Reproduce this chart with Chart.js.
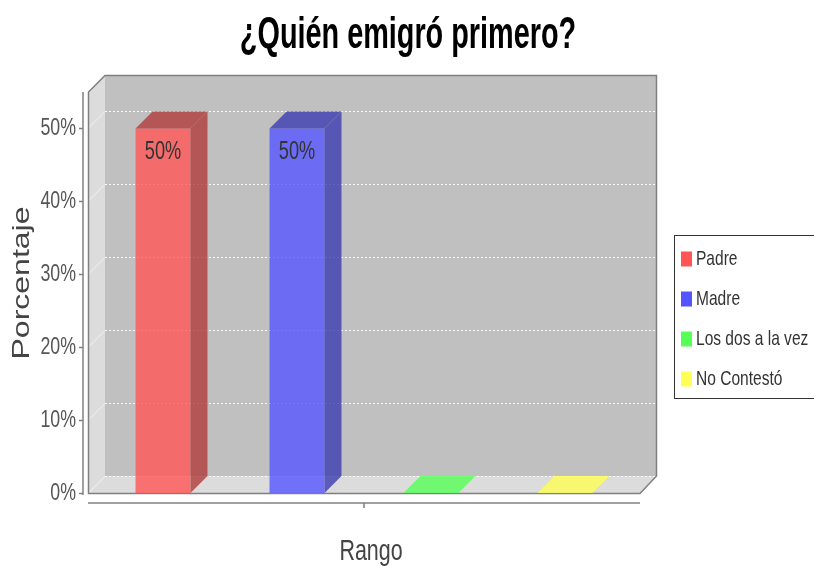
<!DOCTYPE html>
<html>
<head>
<meta charset="utf-8">
<script src="https://cdn.jsdelivr.net/npm/chart.js@4"></script>
<style>
  html, body { margin: 0; padding: 0; background: #fff; }
  #wrap { width: 814px; height: 567px; }
</style>
</head>
<body>
<div id="wrap"><canvas id="chart" width="814" height="567"></canvas></div>
<script>
// datos
const categories = ["Rango"];
const seriesNames = ["Padre", "Madre", "Los dos a la vez", "No Contestó"];
const seriesValues = [50, 50, 0, 0];
const yTicks = [0, 10, 20, 30, 40, 50];
const yMax = 55;

const chartTitle = "¿Quién emigró primero?";
const yTitle = "Porcentaje";
const xTitle = "Rango";

const baseColors = [[255, 85, 85], [85, 85, 255], [85, 255, 85], [255, 255, 85]];
const DEPTH = 17;
const FONT = "'Liberation Sans', Arial, sans-serif";

function rgba(c, a) { return `rgba(${c[0]},${c[1]},${c[2]},${a})`; }
function darker(c) { return c.map(v => Math.floor(v * 0.7)); }

// texto con escala horizontal (la imagen original está comprimida)
function txt(ctx, s, x, y, opt) {
  ctx.save();
  ctx.translate(x, y);
  ctx.scale(opt.sx || 0.74, 1);
  if (opt.rotate) ctx.rotate(opt.rotate);
  ctx.font = opt.font;
  ctx.fillStyle = opt.color || "#444";
  ctx.textAlign = opt.align || "center";
  ctx.textBaseline = opt.baseline || "alphabetic";
  ctx.fillText(s, 0, 0);
  ctx.restore();
}

const walls3d = {
  id: "walls3d",
  beforeDatasetsDraw(chart) {
    const ctx = chart.ctx;
    const { left, right, top, bottom } = chart.chartArea;
    const yScale = chart.scales.y;
    const D = DEPTH;
    ctx.save();
    // pared de fondo
    ctx.fillStyle = "#c0c0c0";
    ctx.fillRect(left + D, top - D, right - left, bottom - top);
    // pared izquierda y piso
    ctx.fillStyle = "#dcdcdc";
    ctx.beginPath();
    ctx.moveTo(left, top); ctx.lineTo(left + D, top - D);
    ctx.lineTo(left + D, bottom - D); ctx.lineTo(left, bottom);
    ctx.closePath(); ctx.fill();
    ctx.beginPath();
    ctx.moveTo(left, bottom); ctx.lineTo(left + D, bottom - D);
    ctx.lineTo(right + D, bottom - D); ctx.lineTo(right, bottom);
    ctx.closePath(); ctx.fill();
    // lineas de grilla
    ctx.lineWidth = 1;
    yTicks.forEach(v => {
      const y = Math.round(yScale.getPixelForValue(v)) + 0.5;
      ctx.strokeStyle = "rgba(255,255,255,0.9)";
      ctx.setLineDash([2, 2]);
      ctx.beginPath();
      ctx.moveTo(left + D, y - D); ctx.lineTo(right + D, y - D);
      ctx.stroke();
      ctx.setLineDash([]);
      ctx.strokeStyle = "rgba(255,255,255,0.6)";
      ctx.beginPath();
      ctx.moveTo(left, y); ctx.lineTo(left + D, y - D);
      ctx.stroke();
    });
    // bordes
    ctx.strokeStyle = "#808080";
    ctx.lineWidth = 1.5;
    ctx.beginPath();
    ctx.moveTo(left + 0.5, bottom + 0.5);
    ctx.lineTo(left + 0.5, top);
    ctx.lineTo(left + D, top - D + 0.5);
    ctx.lineTo(right + D - 0.5, top - D + 0.5);
    ctx.lineTo(right + D - 0.5, bottom - D);
    ctx.lineTo(right, bottom + 0.5);
    ctx.closePath();
    ctx.stroke();
    ctx.restore();
  },
  afterDatasetsDraw(chart) {
    const ctx = chart.ctx;
    const D = DEPTH;
    ctx.save();
    chart.data.datasets.forEach((ds, i) => {
      const el = chart.getDatasetMeta(i).data[0];
      const { x, y, base, width } = el.getProps(["x", "y", "base", "width"], true);
      const l = x - width / 2, r = x + width / 2;
      const c = baseColors[i];
      const v = seriesValues[i];
      const shade = v > 0 ? rgba(darker(c), 0.8) : rgba(c, 0.8);
      ctx.fillStyle = shade;
      // cara lateral
      if (v > 0) {
        ctx.beginPath();
        ctx.moveTo(r, y); ctx.lineTo(r + D, y - D);
        ctx.lineTo(r + D, base - D); ctx.lineTo(r, base);
        ctx.closePath(); ctx.fill();
      }
      // cara superior
      ctx.beginPath();
      ctx.moveTo(l, y); ctx.lineTo(l + D, y - D);
      ctx.lineTo(r + D, y - D); ctx.lineTo(r, y);
      ctx.closePath(); ctx.fill();
      // etiqueta
      if (v > 0) {
        txt(ctx, v + "%", x, y + 10, { font: `26px ${FONT}`, sx: 0.7, color: "#333", baseline: "top" });
      }
    });
    ctx.restore();
  },
  afterDraw(chart) {
    const ctx = chart.ctx;
    const { left, right, top, bottom } = chart.chartArea;
    const yScale = chart.scales.y;
    const xScale = chart.scales.x;
    ctx.save();
    ctx.strokeStyle = "#808080";
    ctx.lineWidth = 1.5;
    // eje Y
    const ax = left - 5;
    ctx.beginPath();
    ctx.moveTo(ax, top); ctx.lineTo(ax, bottom + 2);
    ctx.stroke();
    yTicks.forEach(v => {
      const y = Math.round(yScale.getPixelForValue(v)) + 0.5;
      ctx.beginPath();
      ctx.moveTo(ax - 4, y); ctx.lineTo(ax, y);
      ctx.stroke();
      txt(ctx, v + "%", ax - 7, y, { font: `24px ${FONT}`, align: "right", baseline: "middle", color: "#555" });
    });
    // eje X
    const ay = bottom + 10;
    ctx.beginPath();
    ctx.moveTo(left, ay); ctx.lineTo(right, ay);
    ctx.stroke();
    const cx = xScale.getPixelForValue(0);
    ctx.beginPath();
    ctx.moveTo(cx, ay); ctx.lineTo(cx, ay + 5);
    ctx.stroke();
    // titulos
    txt(ctx, chartTitle, 408, 48, { font: `bold 44px ${FONT}`, sx: 0.655, color: "#000" });
    txt(ctx, xTitle, cx + 7, 560, { font: `29px ${FONT}`, color: "#444" });
    txt(ctx, yTitle, 22, 283, { font: `32px ${FONT}`, rotate: -Math.PI / 2, baseline: "middle", color: "#444" });
    // leyenda
    ctx.fillStyle = "#fff";
    ctx.fillRect(674.5, 235.5, 200, 163);
    ctx.strokeStyle = "#333";
    ctx.lineWidth = 1;
    ctx.strokeRect(674.5, 235.5, 200, 163);
    seriesNames.forEach((name, i) => {
      const cy = 259 + i * 40;
      ctx.fillStyle = rgba(baseColors[i], 1);
      ctx.fillRect(681, cy - 7.5, 11, 15);
      txt(ctx, name, 696, cy, { font: `21px ${FONT}`, align: "left", baseline: "middle", color: "#333" });
    });
    ctx.restore();
  }
};

new Chart(document.getElementById("chart"), {
  type: "bar",
  data: {
    labels: categories,
    datasets: seriesNames.map((name, i) => ({
      label: name,
      data: [seriesValues[i]],
      backgroundColor: rgba(baseColors[i], 0.8),
      borderWidth: 0,
      categoryPercentage: 0.971,
      barPercentage: 0.41
    }))
  },
  options: {
    responsive: false,
    animation: false,
    devicePixelRatio: 1,
    layout: { padding: { left: 88, right: 174, top: 92, bottom: 74 } },
    plugins: { legend: { display: false }, title: { display: false }, tooltip: { enabled: false } },
    scales: {
      x: { display: false },
      y: { display: false, min: 0, max: yMax }
    }
  },
  plugins: [walls3d]
});
</script>
</body>
</html>
